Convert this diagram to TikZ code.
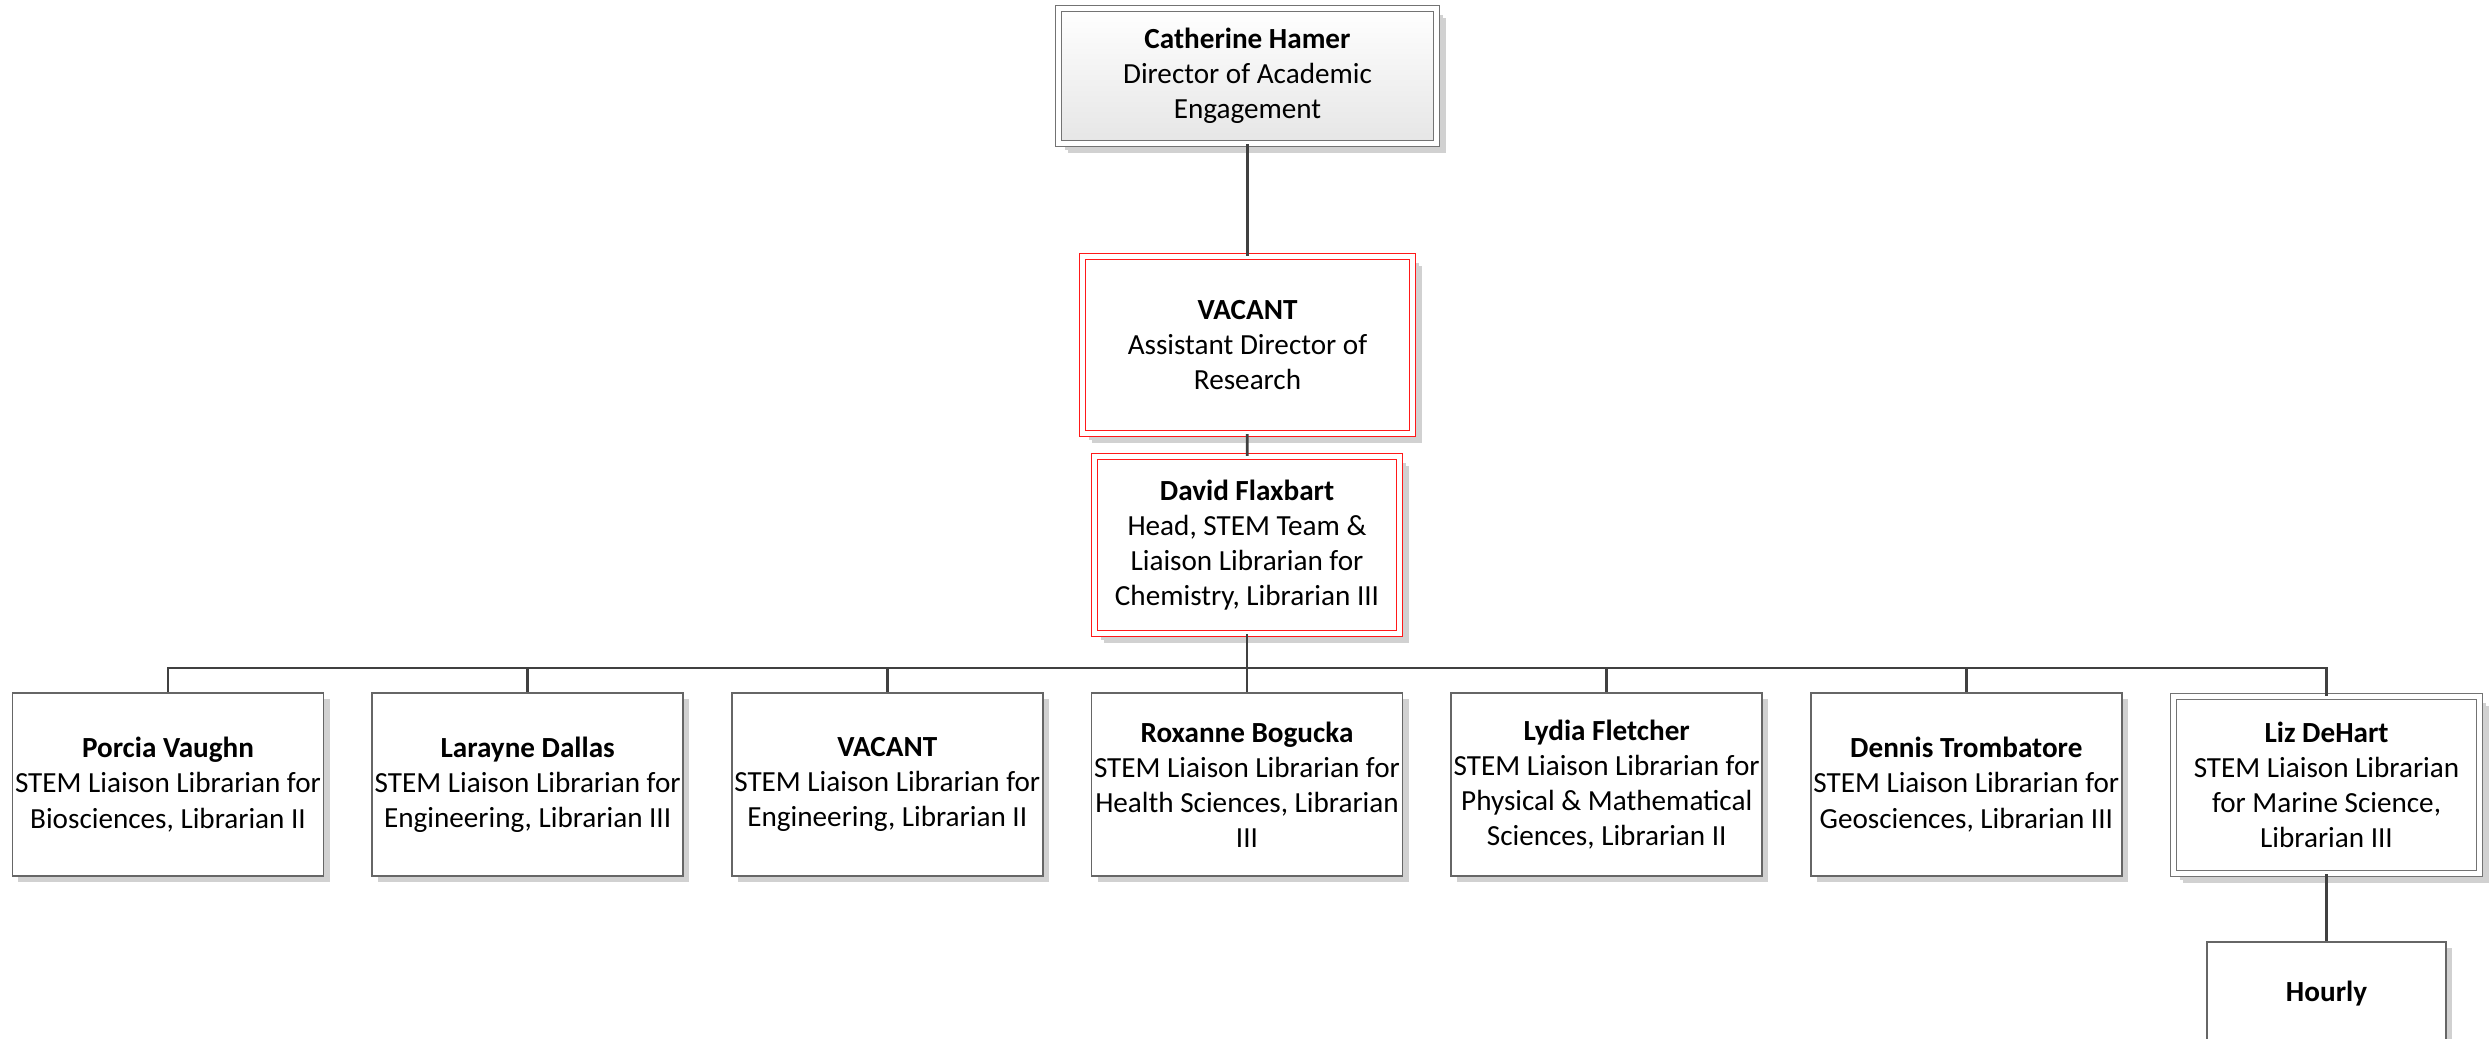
\documentclass[tikz,border=0pt]{standalone}
\usepackage{fontspec}
\setmainfont{Carlito}
\usepackage{tikz}
\usepackage{xcolor}
\usetikzlibrary{positioning, shadows, calc}

\begin{document}
\begin{tikzpicture}[
  every node/.style={font=\fontsize{8.3}{10}\selectfont},
  link/.style={draw=black!75, line width=0.8pt},
  staff/.style={draw=black!60, line width=0.45pt, fill=white, align=center, inner sep=0pt,
    minimum width=3.11cm, minimum height=1.83cm,
    drop shadow={shadow xshift=0.6mm, shadow yshift=-0.6mm, fill=black!18, opacity=1}},
  lead/.style={staff, draw=black!55, double=white, double distance=0.45mm, line width=0.4pt,
    drop shadow={shadow xshift=0.9mm, shadow yshift=-0.9mm, fill=black!18, opacity=1}},
  vacant/.style={lead, draw=red!90}
]
\path[use as bounding box, clip] (0,0) rectangle (24.92,-10.38);

% Director
\node[lead, top color=white, bottom color=black!10, minimum width=3.78cm, minimum height=1.35cm]
  (director) at (12.475, -0.76) {\textbf{Catherine Hamer}\\Director of Academic\\Engagement};

% Assistant director and team head
\node[vacant, minimum width=3.30cm, minimum height=1.77cm]
  (assistant) at (12.475, -3.45) {\textbf{VACANT}\\Assistant Director of\\Research};
\node[vacant, minimum width=3.05cm, minimum height=1.77cm]
  (head) at (12.47, -5.45) {\textbf{David Flaxbart}\\Head, STEM Team \&\\Liaison Librarian for\\Chemistry, Librarian III};

% Liaison librarians
\node[staff] (porcia) at (1.68, -7.845) {\textbf{Porcia Vaughn}\\STEM Liaison Librarian for\\Biosciences, Librarian II};
\node[staff] (larayne) at (5.277, -7.845) {\textbf{Larayne Dallas}\\STEM Liaison Librarian for\\Engineering, Librarian III};
\node[staff] (vacanteng) at (8.873, -7.845) {\textbf{VACANT}\\STEM Liaison Librarian for\\Engineering, Librarian II};
\node[staff] (roxanne) at (12.47, -7.845) {\textbf{Roxanne Bogucka}\\STEM Liaison Librarian for\\Health Sciences, Librarian\\III};
\node[staff] (lydia) at (16.067, -7.845) {\textbf{Lydia Fletcher}\\STEM Liaison Librarian for\\Physical \& Mathematical\\Sciences, Librarian II};
\node[staff] (dennis) at (19.663, -7.845) {\textbf{Dennis Trombatore}\\STEM Liaison Librarian for\\Geosciences, Librarian III};
\node[lead, minimum width=3.06cm, minimum height=1.77cm]
  (liz) at (23.265, -7.85) {\textbf{Liz DeHart}\\STEM Liaison Librarian\\for Marine Science,\\Librarian III};

% Hourly staff
\node[staff, minimum width=2.39cm] (hourly) at (23.265, -10.335) {\textbf{Hourly}\\[1.4mm]~\\~};

% Connectors
\coordinate (bus) at (0, -6.68);
\draw[link] (director) -- (assistant);
\draw[link] (assistant) -- (head);
\foreach \n in {porcia, larayne, vacanteng, roxanne, lydia, dennis, liz}
  \draw[link] (head.south) -- (head.south |- bus) -| (\n.north);
\draw[link] (liz) -- (hourly);

\end{tikzpicture}
\end{document}
